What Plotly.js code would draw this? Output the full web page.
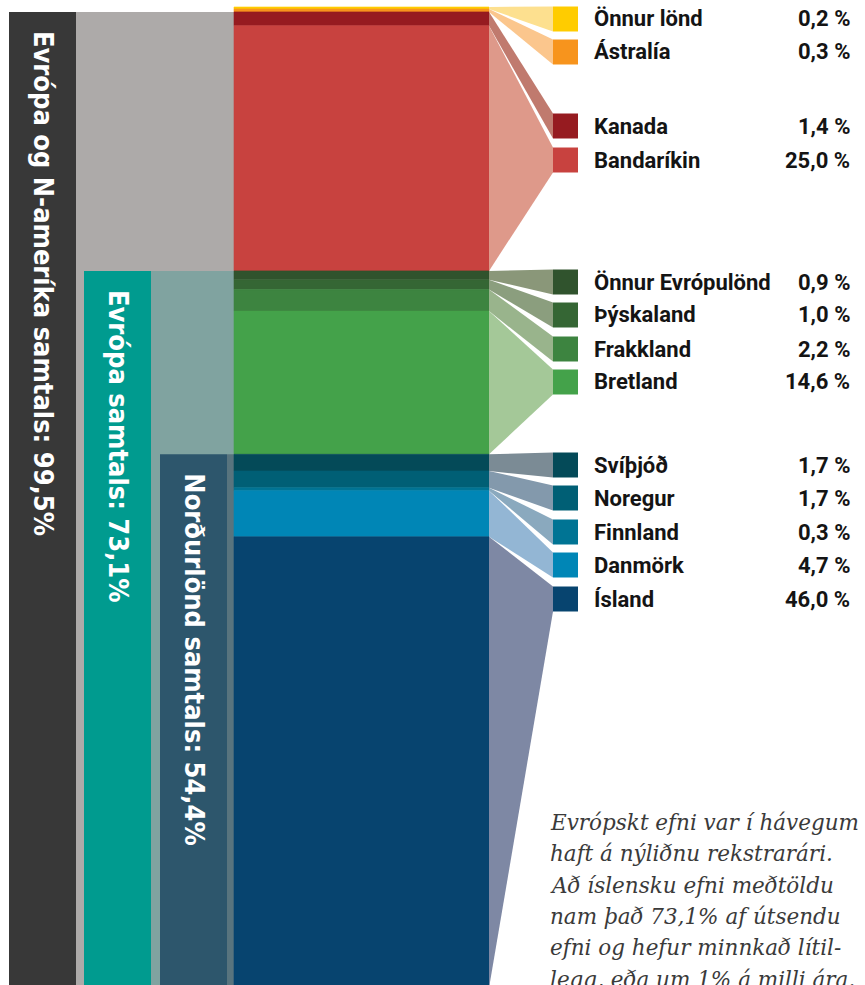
<!DOCTYPE html>
<html>
<head>
<meta charset="utf-8">
<script src="https://cdn.plot.ly/plotly-3.0.1.min.js"></script>
<style>
  html, body { margin: 0; padding: 0; background: #ffffff; }
  #chart { width: 865px; height: 985px; }
</style>
</head>
<body>
<div id="chart"></div>
<script>
// ---------------- DATA ----------------
const countries = ['Önnur lönd', 'Ástralía', 'Kanada', 'Bandaríkin',
  'Önnur Evrópulönd', 'Þýskaland', 'Frakkland', 'Bretland',
  'Svíþjóð', 'Noregur', 'Finnland', 'Danmörk', 'Ísland'];
const shares = [0.2, 0.3, 1.4, 25.0, 0.9, 1.0, 2.2, 14.6, 1.7, 1.7, 0.3, 4.7, 46.0];

// grouping: label, index of first member country (groups run to the end of the list)
const groupLabels = ['Evrópa og N-ameríka samtals', 'Evrópa samtals', 'Norðurlönd samtals'];
const groupFirstIndex = [2, 4, 8];

const noteLines = [
  'Evrópskt efni var í hávegum',
  'haft á nýliðnu rekstrarári.',
  'Að íslensku efni meðtöldu',
  'nam það 73,1% af útsendu',
  'efni og hefur minnkað lítil-',
  'legg, eða um 1% á milli ára.'
];

// ---------------- STYLE / LAYOUT ----------------
const W = 865, H = 985;
const TOP_PX = 7, PX_PER_PCT = 9.81;
const colors = ['#FFCC00', '#F7941D', '#961B20', '#C8423F',
  '#30532D', '#356634', '#3D8440', '#44A24A',
  '#044A58', '#005F75', '#007494', '#0086B6', '#07446F'];
const linkColors = ['#FDE08F', '#FBC68D', '#C07A6E', '#DE998A',
  '#8A9779', '#8B9E7E', '#99B48C', '#A4C898',
  '#7B8B95', '#8399AC', '#8AA9BE', '#93B6D4', '#7E88A4'];
const legendCenterPx = [19, 52, 126, 160, 282, 315, 349, 382, 465, 498, 532, 565, 599];
const LEG_SIZE = 25, LEG_X0 = 553, COL_X0 = 234, COL_X1 = 489;
const LABEL_X = 592, VALUE_X = 852;
// side group bars: [barX0, barX1, fillX1]
const groupBars = [[9, 76, 234], [84, 151, 234], [160, 227, 234]];
const groupBarColors = ['#383838', '#009B8F', '#2D566C'];
const groupFillColors = ['#ADAAA9', '#80A3A0', '#58747E'];
const NOTE_X = 548, NOTE_BASELINES = [829, 860, 892, 923, 954, 986];

const fmt = v => v.toFixed(1).replace('.', ',');
const toData = px => (px - TOP_PX) / PX_PER_PCT;
const paperY = px => 1 - px / H;

// cumulative starts
const starts = [];
let acc = 0;
shares.forEach(v => { starts.push(acc); acc += v; });
const total = acc;

const traces = [];
const annotations = [];

// group background fills and bars
groupFirstIndex.forEach((gi, g) => {
  const base = starts[gi];
  const sum = shares.slice(gi).reduce((a, b) => a + b, 0);
  const [bx0, bx1, fx1] = groupBars[g];
  traces.push({
    type: 'bar', x: [(bx1 + fx1) / 2], y: [total - base], base: [base],
    width: [fx1 - bx1], marker: { color: groupFillColors[g], line: { width: 0 } },
    hoverinfo: 'skip', showlegend: false
  });
  traces.push({
    type: 'bar', x: [(bx0 + bx1) / 2], y: [total - base], base: [base],
    width: [bx1 - bx0], marker: { color: groupBarColors[g], line: { width: 0 } },
    hoverinfo: 'skip', showlegend: false
  });
  annotations.push({
    xref: 'x', yref: 'paper', x: (bx0 + bx1) / 2 + 1,
    y: paperY(TOP_PX + base * PX_PER_PCT + 17),
    xanchor: 'center', yanchor: 'top', textangle: 90, showarrow: false,
    text: groupLabels[g] + ': ' + fmt(sum) + '%',
    font: { family: 'DejaVu Sans Condensed, Roboto, sans-serif', size: 27, color: '#ffffff', weight: 700 }
  });
});

// main stacked column
traces.push({
  type: 'bar', x: countries.map(() => (COL_X0 + COL_X1) / 2), y: shares, base: starts,
  width: countries.map(() => COL_X1 - COL_X0),
  marker: { color: colors, line: { width: 0.6, color: colors } }, hoverinfo: 'skip', showlegend: false
});

// connectors + legend
countries.forEach((c, i) => {
  const segTop = starts[i], segBot = starts[i] + shares[i];
  const lt = toData(legendCenterPx[i] - LEG_SIZE / 2), lb = toData(legendCenterPx[i] + LEG_SIZE / 2);
  traces.push({
    type: 'scatter', mode: 'lines', x: [COL_X1, LEG_X0, LEG_X0, COL_X1, COL_X1],
    y: [segTop, lt, lb, segBot, segTop], fill: 'toself', fillcolor: linkColors[i],
    line: { width: 0, color: linkColors[i] }, hoverinfo: 'skip', showlegend: false
  });
  traces.push({
    type: 'scatter', mode: 'markers', x: [LEG_X0 + LEG_SIZE / 2], y: [toData(legendCenterPx[i])],
    marker: { symbol: 'square', size: LEG_SIZE, color: colors[i], line: { width: 0 } },
    hoverinfo: 'skip', showlegend: false
  });
  annotations.push({
    xref: 'x', yref: 'paper', x: LABEL_X, y: paperY(legendCenterPx[i]),
    xanchor: 'left', yanchor: 'middle', showarrow: false, text: c,
    font: { family: 'Roboto, sans-serif', size: 22, color: '#141414', weight: 700 }
  });
  annotations.push({
    xref: 'x', yref: 'paper', x: VALUE_X, y: paperY(legendCenterPx[i]),
    xanchor: 'right', yanchor: 'middle', showarrow: false, text: fmt(shares[i]) + ' %',
    font: { family: 'Roboto, sans-serif', size: 22, color: '#141414', weight: 700 }
  });
});

// note text
noteLines.forEach((t, k) => {
  annotations.push({
    xref: 'x', yref: 'paper', x: NOTE_X, y: paperY(NOTE_BASELINES[k] - 7),
    xanchor: 'left', yanchor: 'middle', showarrow: false, text: t,
    font: { family: 'DejaVu Serif, serif', size: 21.5, color: '#3a3a3a', style: 'italic' }
  });
});

const layout = {
  width: W, height: H, margin: { l: 0, r: 0, t: 0, b: 0 },
  paper_bgcolor: '#ffffff', plot_bgcolor: '#ffffff',
  barmode: 'overlay', showlegend: false,
  xaxis: { range: [0, W], visible: false, fixedrange: true },
  yaxis: { range: [toData(H), toData(0)], visible: false, fixedrange: true },
  annotations: annotations
};

Plotly.newPlot('chart', traces, layout, { staticPlot: true, displayModeBar: false });
</script>
</body>
</html>
